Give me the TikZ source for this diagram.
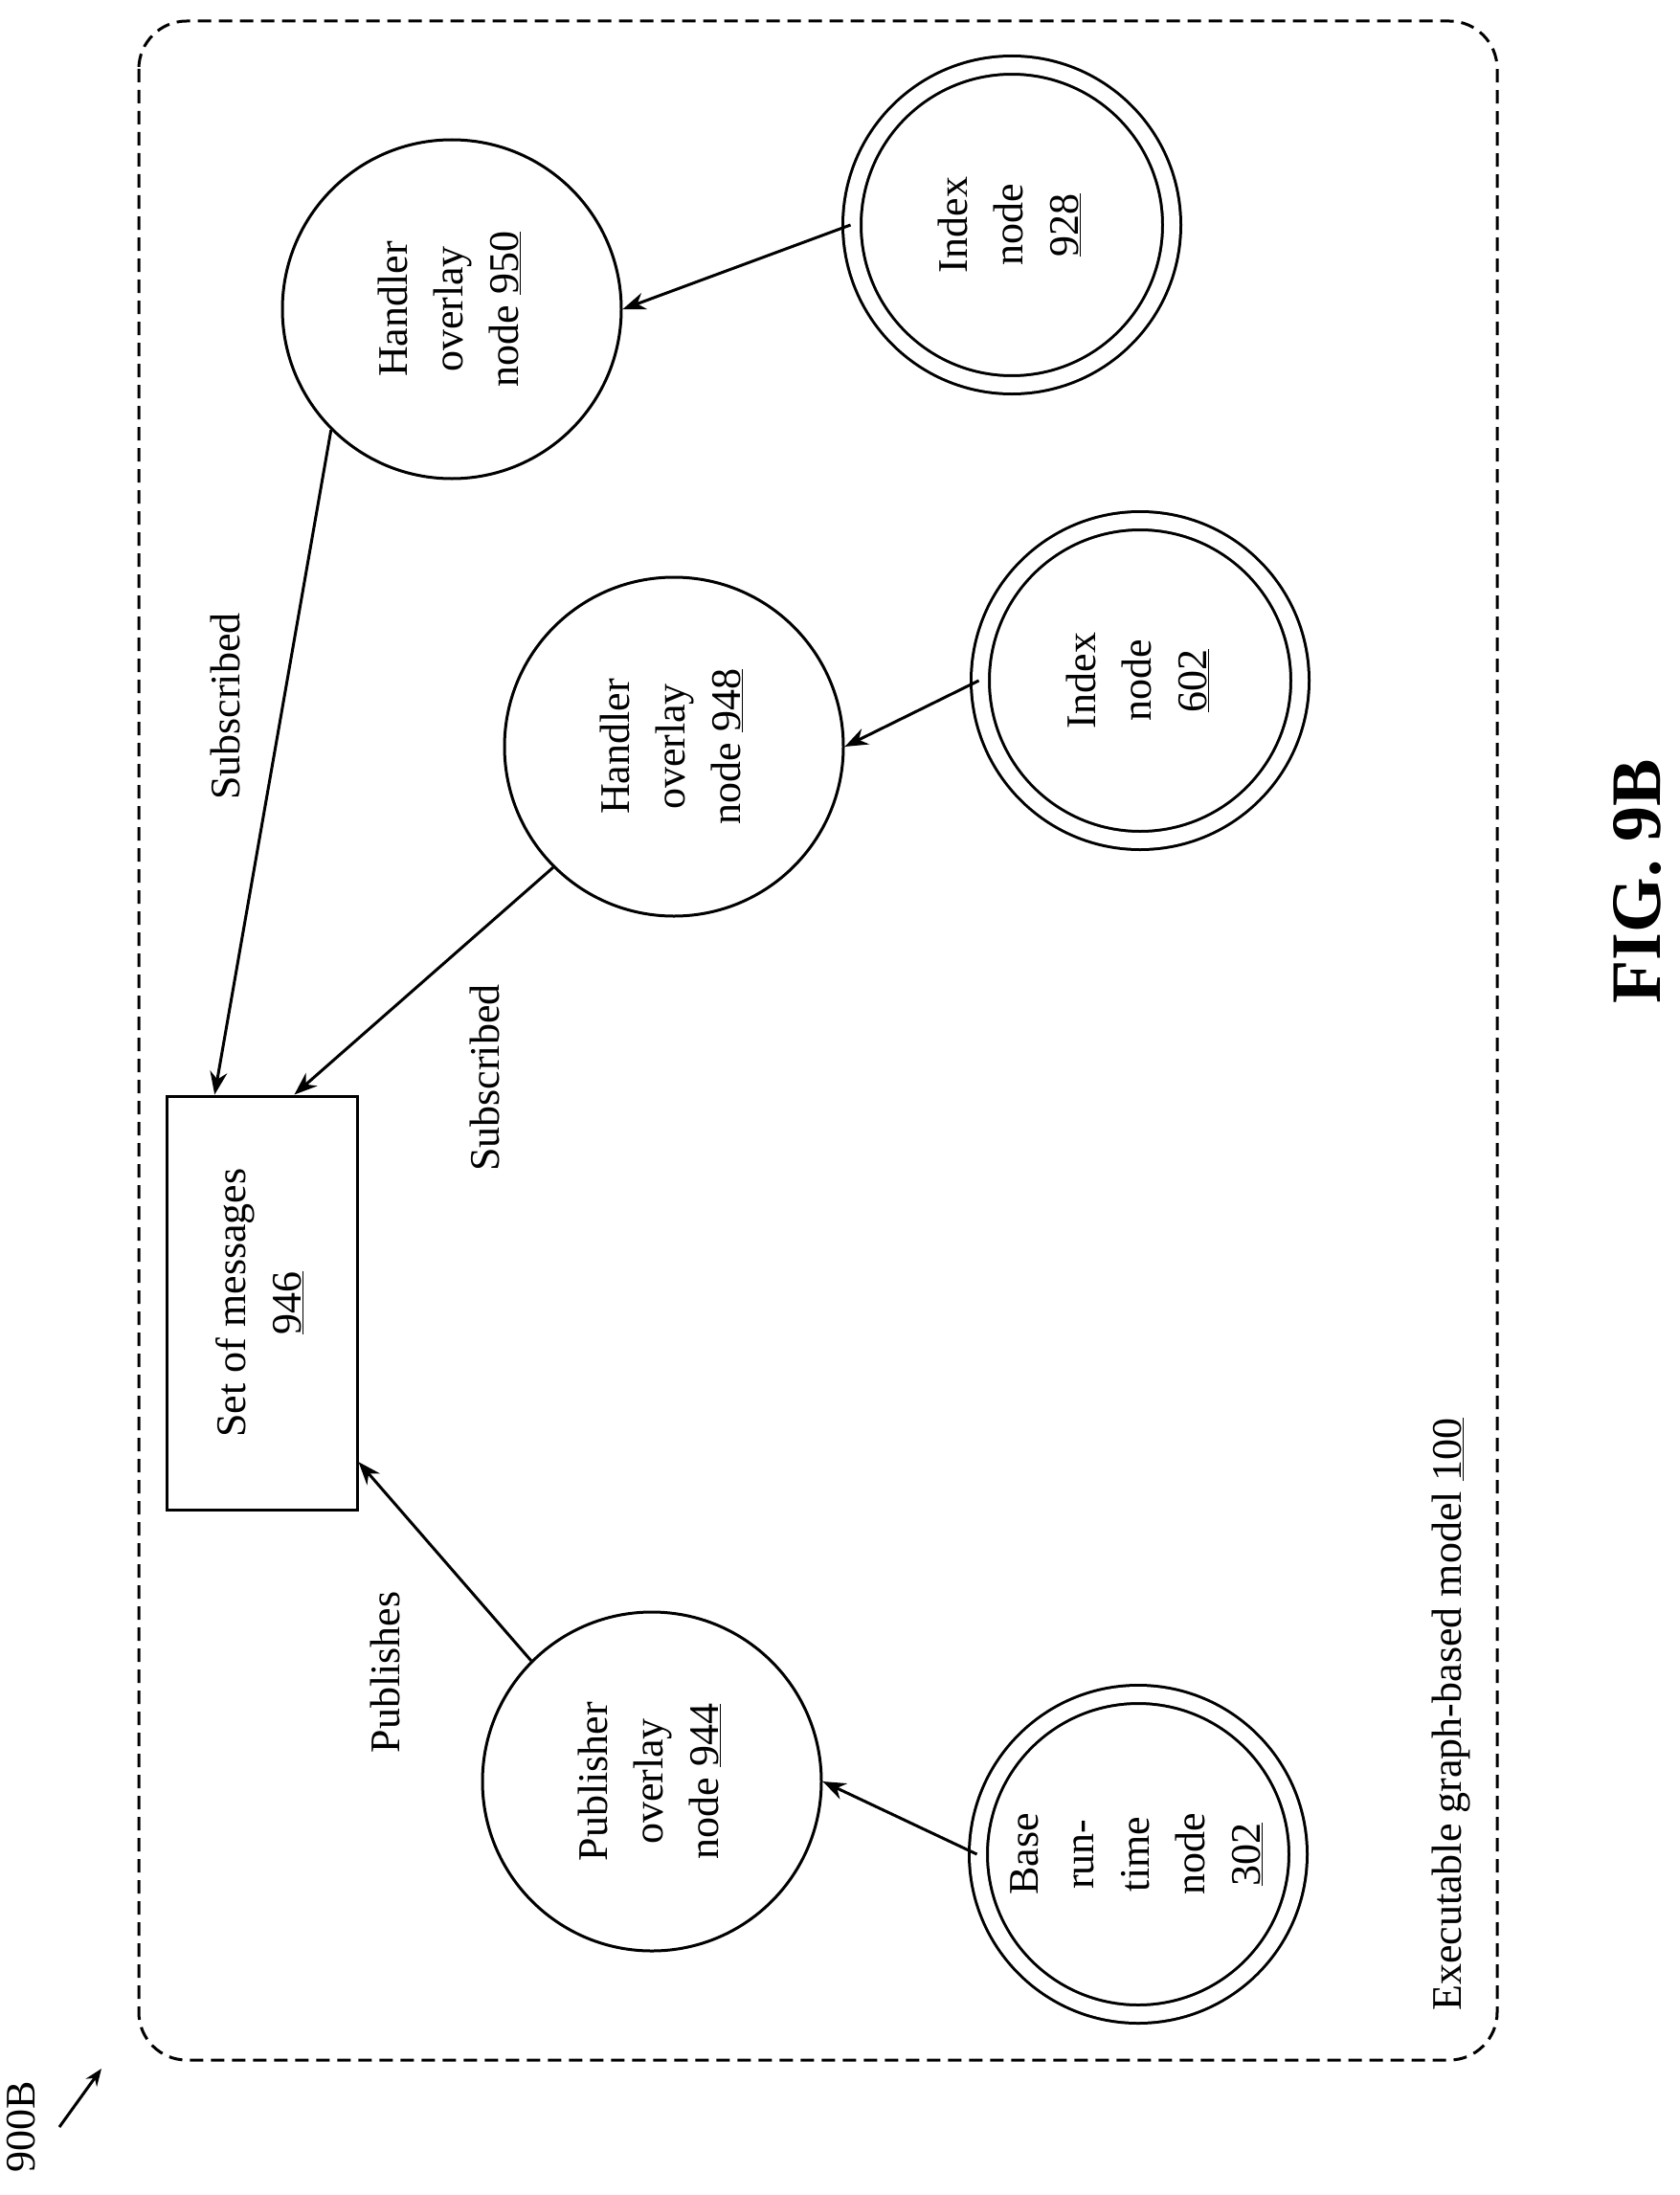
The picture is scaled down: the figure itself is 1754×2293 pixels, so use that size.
\documentclass[tikz,border=0pt]{standalone}
\usepackage{fontspec}
\setmainfont{Liberation Serif}
\usetikzlibrary{arrows.meta,calc}
\begin{document}
\begin{tikzpicture}[x=1pt,y=-1pt,
  lbl/.style={font=\fontsize{44}{58}\selectfont,inner sep=0pt},
  ring/.style={circle,draw,line width=3pt,minimum size=354pt,inner sep=0pt,font=\fontsize{44}{58}\selectfont},
  dring/.style={circle,draw,line width=3pt,double,double distance=16pt,minimum size=334pt,inner sep=0pt,font=\fontsize{44}{58}\selectfont},
  conn/.style={line width=3pt,-{Stealth[length=24pt,width=18pt]}}]
\useasboundingbox (0,0) rectangle (1754,2293);
\draw[line width=3pt,dash pattern=on 14pt off 8pt,rounded corners=50pt] (145,22) rectangle (1564,2152);
\newcommand{\rtxt}[1]{\rotatebox{90}{\begin{tabular}{@{}c@{}}#1\end{tabular}}}
\node[ring] (n950) at (472,323) {\rtxt{Handler\\overlay\\node \underline{950}}};
\node[dring] (n928) at (1057,235) {\rtxt{Index\\node\\\underline{928}}};
\node[ring] (n948) at (704,780) {\rtxt{Handler\\overlay\\node \underline{948}}};
\node[dring] (n602) at (1191,711) {\rtxt{Index\\node\\\underline{602}}};
\node[ring] (n944) at (681,1861) {\rtxt{Publisher\\overlay\\node \underline{944}}};
\node[dring] (n302) at (1189,1937) {\rtxt{Base\\run-\\time\\node\\\underline{302}}};
\node[draw,line width=3pt,minimum width=199pt,minimum height=432pt,inner sep=0pt,font=\fontsize{44}{58}\selectfont] (box) at (273.5,1361) {\rtxt{Set of messages\\\underline{946}}};
\draw[conn] (n928.180) -- (n950.0);
\draw[conn] (n950.225) -- ($(box.north west)!0.256!(box.north east)$);
\draw[conn] (n948.225) -- ($(box.north west)!0.668!(box.north east)$);
\draw[conn] (n602.180) -- (n948.0);
\draw[conn] (n944.135) -- ($(box.north east)!0.882!(box.south east)$);
\draw[conn] (n302.180) -- (n944.0);
\node[lbl,rotate=90] (s1) at (235,738) {Subscribed};
\node[lbl,rotate=90] (s2) at (506,1126) {Subscribed};
\node[lbl,rotate=90] (pub) at (402,1747) {Publishes};
\node[lbl,rotate=90] (ex) at (1516,1791) {Executable graph-based model \underline{100}};
\node[rotate=90,inner sep=0pt,font=\fontsize{74}{80}\selectfont\bfseries] (fig) at (1711,921) {FIG. 9B};
\node[lbl,rotate=90] (ref) at (22,2222) {900B};
\coordinate (a0) at (62,2222);
\coordinate (a1) at (106,2161);
\draw[line width=3pt,-{Stealth[length=18pt,width=14pt]}] (a0) -- (a1);
\end{tikzpicture}
\end{document}
